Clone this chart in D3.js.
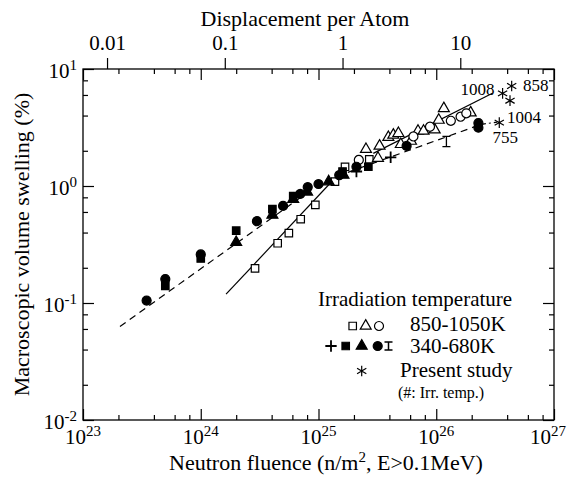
<!DOCTYPE html>
<html>
<head>
<meta charset="utf-8">
<script src="https://cdn.jsdelivr.net/npm/d3@7"></script>
<style>
  body { margin: 0; background: #fff; }
  svg { font-family: "Liberation Serif", "Times New Roman", serif; }
</style>
</head>
<body>
<div id="chart"></div>
<script>
// ======= data ========
// fluence (n/m2), swelling (%)
var openSquares = [[2.89e24,0.198],[4.5e24,0.324],[5.6e24,0.395],[7.06e24,0.52],[9.4e24,0.69],[1.38e25,1.09],[1.68e25,1.46],[2.7e25,1.69]];
var openTriangles = [[2.53e25,2.06],[3.2e25,1.73],[3.3e25,2.2],[3.92e25,2.61],[4.32e25,2.73],[4.77e25,2.82],[5.0e25,2.27],[6.1e25,2.42],[7.0e25,2.95],[7.8e25,2.95],[9.7e25,3.03],[1.05e26,3.66],[1.16e26,4.6],[1.96e26,4.23]];
var openCircles = [[2.2e25,1.67],[6.4e25,2.65],[8.85e25,3.21],[1.33e26,3.61],[1.61e26,3.91],[1.8e26,4.18]];
var filledSquares = [[5e23,0.14],[1e24,0.24],[2e24,0.415],[4.06e24,0.635],[6.1e24,0.82],[1.6e25,1.33],[2.65e25,1.46]];
var filledTriangles = [[2e24,0.33],[4.06e24,0.565],[6.1e24,0.77],[8e24,0.89],[1.22e25,1.09],[1.63e25,1.24]];
var filledCircles = [[3.47e23,0.105],[5e23,0.16],[1e24,0.26],[3e24,0.5],[5e24,0.675],[7e24,0.855],[8.1e24,0.98],[1.0e25,1.04],[1.5e25,1.24],[2.1e25,1.46],[5.6e25,2.2],[2.28e26,3.45],[2.28e26,3.15]];
var plusPoints = [[2.1e25,1.33],[4.1e25,1.76]];
var errorBars = [[1.22e26,2.4,2.2,2.7]]; // x, y, low, high
var stars = [[3.66e26,6.19],[4.37e26,7.16],[4.23e26,5.36],[3.43e26,3.48]];
var starLabels = ["1008","858","1004","755"];

// fitted lines
var solidLow = [[1.64e24,0.119],[1.7e25,1.46]];
var solidHigh = [[2.92e25,1.9],[3.0e26,6.2]];
var dashedLine = [[2.06e23,0.063],[1.1e25,1.1],[2.28e26,3.3]];
var dashDotLine = [[2.35e26,3.35],[3.3e26,3.52]];

var xMajor = [1e23,1e24,1e25,1e26,1e27];
var yMajor = [1e-2,1e-1,1e0,1e1];
var dpaTicks = [0.01,0.1,1,10];
var dpaFactor = 1.6e25; // n/m2 per dpa

// ======= setup ========
var width = 570, height = 478;
var mLeft = 83, mTop = 69, w = 471, h = 351;

var svg = d3.select("#chart").append("svg")
    .attr("width", width)
    .attr("height", height);

var g = svg.append("g").attr("transform", "translate(" + mLeft + "," + mTop + ")");

var x = d3.scaleLog().domain([1e23, 1e27]).range([0, w]);
var y = d3.scaleLog().domain([1e-2, 1e1]).range([h, 0]);
var xd = d3.scaleLog().domain([1e23 / dpaFactor, 1e27 / dpaFactor]).range([0, w]);

function minorOf(majors){
    var out = [];
    majors.slice(0, -1).forEach(function(m){ [2,4,6,8].forEach(function(k){ out.push(m * k); }); });
    return out;
}

function clean(sel){
    sel.select(".domain").remove();
    sel.selectAll("line").attr("stroke", "#000").attr("stroke-width", 1.2);
}

// ======= axes ========
g.append("g").attr("transform", "translate(0," + h + ")")
    .call(d3.axisBottom(x).tickValues(minorOf(xMajor)).tickSize(-5).tickFormat("")).call(clean);
g.append("g").attr("transform", "translate(0," + h + ")")
    .call(d3.axisBottom(x).tickValues(xMajor).tickSize(-11).tickFormat("")).call(clean);
g.append("g")
    .call(d3.axisTop(x).tickValues(minorOf(xMajor)).tickSize(-5).tickFormat("")).call(clean);
g.append("g")
    .call(d3.axisTop(x).tickValues(xMajor).tickSize(-11).tickFormat("")).call(clean);
g.append("g")
    .call(d3.axisLeft(y).tickValues(minorOf(yMajor)).tickSize(-5).tickFormat("")).call(clean);
g.append("g")
    .call(d3.axisLeft(y).tickValues(yMajor).tickSize(-11).tickFormat("")).call(clean);
g.append("g").attr("transform", "translate(" + w + ",0)")
    .call(d3.axisRight(y).tickValues(minorOf(yMajor)).tickSize(-5).tickFormat("")).call(clean);
g.append("g").attr("transform", "translate(" + w + ",0)")
    .call(d3.axisRight(y).tickValues(yMajor).tickSize(-11).tickFormat("")).call(clean);

// dpa axis on top, outward ticks
var topAxis = g.append("g")
    .call(d3.axisTop(xd).tickValues(dpaTicks).tickSize(11).tickPadding(8).tickFormat(function(d){ return String(d); }))
    .call(clean);
topAxis.attr("font-size", null).attr("font-family", null);
topAxis.selectAll("text").attr("font-size", 21).attr("fill", "#000");

g.append("rect")
    .attr("width", w).attr("height", h)
    .attr("fill", "none").attr("stroke", "#000").attr("stroke-width", 1.3);

// power-of-ten labels
var xl = g.selectAll(".xlab").data(xMajor).enter().append("text")
    .attr("class", "xlab")
    .attr("x", function(d, i){ return i === xMajor.length - 1 ? x(d) - 6 : x(d); })
    .attr("y", h + 24)
    .attr("text-anchor", "middle")
    .attr("font-size", 21);
xl.append("tspan").text("10");
xl.append("tspan").attr("dy", -8).attr("font-size", 15).text(function(d){ return Math.round(Math.log10(d)); });

var yl = g.selectAll(".ylab").data(yMajor).enter().append("text")
    .attr("class", "ylab")
    .attr("x", -6)
    .attr("y", function(d){ return y(d) + 9; })
    .attr("text-anchor", "end")
    .attr("font-size", 21);
yl.append("tspan").text("10");
yl.append("tspan").attr("dy", -8).attr("font-size", 15).text(function(d){ return Math.round(Math.log10(d)); });

// titles
svg.append("text").attr("x", 305).attr("y", 26).attr("text-anchor", "middle")
    .attr("font-size", 22).text("Displacement per Atom");
var xt = svg.append("text").attr("x", 326).attr("y", 470).attr("text-anchor", "middle")
    .attr("font-size", 22);
xt.append("tspan").text("Neutron fluence (n/m");
xt.append("tspan").attr("dy", -8).attr("font-size", 15).text("2");
xt.append("tspan").attr("dy", 8).text(", E>0.1MeV)");
svg.append("text").attr("transform", "translate(29," + (mTop + h / 2) + ") rotate(-90)")
    .attr("text-anchor", "middle").attr("font-size", 22)
    .text("Macroscopic volume swelling (%)");

// ======= lines ========
var line = d3.line().x(function(d){ return x(d[0]); }).y(function(d){ return y(d[1]); });

function drawLine(data, dash){
    g.append("path").datum(data)
        .attr("d", line)
        .attr("fill", "none")
        .attr("stroke", "#000")
        .attr("stroke-width", 1.2)
        .attr("stroke-dasharray", dash);
}
drawLine(solidLow, null);
drawLine(solidHigh, null);
drawLine(dashedLine, "7,5");
drawLine(dashDotLine, "6,3,2,3");

// ======= markers ========
var sym = {
    square: d3.symbol().type(d3.symbolSquare).size(56),
    triangle: d3.symbol().type(d3.symbolTriangle).size(52),
    circle: d3.symbol().type(d3.symbolCircle).size(64),
    plus: d3.symbol().type(d3.symbolPlus).size(44),
    star: d3.symbol().type(d3.symbolAsterisk).size(80)
};

function drawPoints(data, shape, filled){
    g.selectAll(null).data(data).enter().append("path")
        .attr("transform", function(d){ return "translate(" + x(d[0]) + "," + y(d[1]) + ")"; })
        .attr("d", sym[shape])
        .attr("fill", filled ? "#000" : (shape === "plus" || shape === "star" ? "none" : "#fff"))
        .attr("stroke", "#000")
        .attr("stroke-width", shape === "plus" ? 1.8 : 1.2);
}
drawPoints(openSquares, "square", false);
drawPoints(openTriangles, "triangle", false);
drawPoints(openCircles, "circle", false);
drawPoints(filledSquares, "square", true);
drawPoints(filledTriangles, "triangle", true);
drawPoints(filledCircles, "circle", true);
drawPoints(plusPoints, "plus", false);
drawPoints(stars, "star", false);

function errPath(hgt){
    return "M-4," + (-hgt/2) + "H4M0," + (-hgt/2) + "V" + (hgt/2) + "M-4," + (hgt/2) + "H4";
}
g.selectAll(null).data(errorBars).enter().append("path")
    .attr("transform", function(d){ return "translate(" + x(d[0]) + "," + y(d[1]) + ")"; })
    .attr("d", function(d){ return errPath(y(d[2]) - y(d[3])); })
    .attr("fill", "none").attr("stroke", "#000").attr("stroke-width", 1.3);

// star labels
var labelOffsets = [[-25,-4],[24,-1],[14,16],[6,14]];
g.selectAll(".slab").data(stars).enter().append("text")
    .attr("class", "slab")
    .attr("x", function(d,i){ return x(d[0]) + labelOffsets[i][0]; })
    .attr("y", function(d,i){ return y(d[1]) + labelOffsets[i][1] + 6; })
    .attr("text-anchor", "middle")
    .attr("font-size", 17)
    .text(function(d,i){ return starLabels[i]; });

// ======= legend ========
var lg = svg.append("g");
lg.append("text").attr("x", 318).attr("y", 306).attr("font-size", 21).text("Irradiation temperature");
lg.append("text").attr("x", 410).attr("y", 331).attr("font-size", 21).text("850-1050K");
lg.append("text").attr("x", 410).attr("y", 353).attr("font-size", 21).text("340-680K");
lg.append("text").attr("x", 400).attr("y", 377).attr("font-size", 21).text("Present study");
lg.append("text").attr("x", 398).attr("y", 398).attr("font-size", 16).text("(#: Irr. temp.)");

var legendMarks = [
    ["square", false, 352.7, 326], ["triangle", false, 365.7, 326], ["circle", false, 379, 326],
    ["plus", false, 331, 346], ["square", true, 345.7, 346], ["triangle", true, 361.7, 346], ["circle", true, 377.7, 346],
    ["star", false, 361.7, 371]
];
legendMarks.forEach(function(m){
    lg.append("path")
        .attr("transform", "translate(" + m[2] + "," + m[3] + ")")
        .attr("d", sym[m[0]])
        .attr("fill", m[1] ? "#000" : (m[0] === "plus" || m[0] === "star" ? "none" : "#fff"))
        .attr("stroke", "#000")
        .attr("stroke-width", m[0] === "plus" ? 1.8 : 1.2);
});
lg.append("path").attr("transform", "translate(388.5,346)").attr("d", errPath(8))
    .attr("fill", "none").attr("stroke", "#000").attr("stroke-width", 1.5);
</script>
</body>
</html>
